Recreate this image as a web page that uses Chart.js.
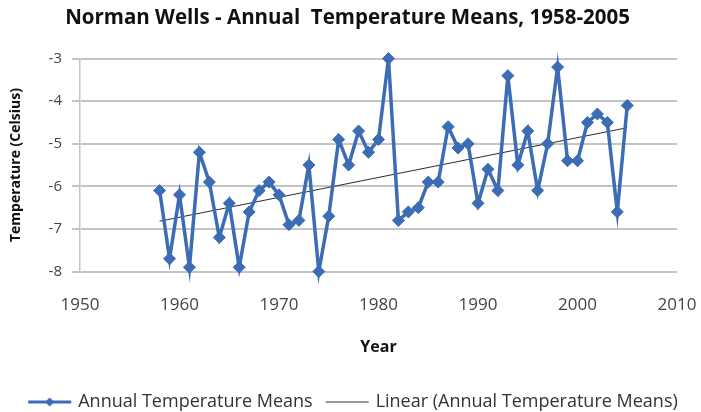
<!DOCTYPE html>
<html>
<head>
<meta charset="utf-8">
<title>Norman Wells - Annual Temperature Means</title>
<script src="https://cdn.jsdelivr.net/npm/chart.js@4.4.1/dist/chart.umd.min.js"></script>
<style>
  html, body { margin: 0; padding: 0; background: #fff; }
  #wrap { width: 701px; height: 412px; }
</style>
</head>
<body>
<div id="wrap"><canvas id="tempChart" width="701" height="412"></canvas></div>
<script>
const years = [
  1958, 1959, 1960, 1961, 1962, 1963, 1964, 1965, 1966, 1967,
  1968, 1969, 1970, 1971, 1972, 1973, 1974, 1975, 1976, 1977,
  1978, 1979, 1980, 1981, 1982, 1983, 1984, 1985, 1986, 1987,
  1988, 1989, 1990, 1991, 1992, 1993, 1994, 1995, 1996, 1997,
  1998, 1999, 2000, 2001, 2002, 2003, 2004, 2005
];
const tempMeans = [
  -6.1, -7.7, -6.2, -7.9, -5.2, -5.9, -7.2, -6.4, -7.9, -6.6,
  -6.1, -5.9, -6.2, -6.9, -6.8, -5.5, -8.0, -6.7, -4.9, -5.5,
  -4.7, -5.2, -4.9, -3.0, -6.8, -6.6, -6.5, -5.9, -5.9, -4.6,
  -5.1, -5.0, -6.4, -5.6, -6.1, -3.4, -5.5, -4.7, -6.1, -5.0,
  -3.2, -5.4, -5.4, -4.5, -4.3, -4.5, -6.6, -4.1
];
const xTicks = [1950, 1960, 1970, 1980, 1990, 2000, 2010];
const yTicks = [-3, -4, -5, -6, -7, -8];

const seriesLabel = "Annual Temperature Means";
const trendLabel = "Linear (Annual Temperature Means)";

const BLUE = "#3b6cb4";
const FONT = "'Open Sans', 'DejaVu Sans', sans-serif";
const PLOT_BOTTOM = 271.5; // where the -8 gridline sits
const PAD_BOTTOM = -9;     // pushes the legend down a little

// least squares line, same thing Excel's linear trendline does
function linearFit(xs, ys) {
  const n = xs.length;
  const mx = xs.reduce((a, b) => a + b, 0) / n;
  const my = ys.reduce((a, b) => a + b, 0) / n;
  let sxy = 0, sxx = 0;
  for (let i = 0; i < n; i++) {
    sxy += (xs[i] - mx) * (ys[i] - my);
    sxx += (xs[i] - mx) * (xs[i] - mx);
  }
  const slope = sxy / sxx;
  return x => my + slope * (x - mx);
}

const fit = linearFit(years, tempMeans);
const firstYear = years[0];
const lastYear = years[years.length - 1];

const seriesPoints = years.map((y, i) => ({ x: y, y: tempMeans[i] }));
const trendPoints = [
  { x: firstYear, y: fit(firstYear) },
  { x: lastYear, y: fit(lastYear) }
];

// legend icons: line with a small diamond, and a plain thin line.
// canvas is a bit wider than the legend box, so the line reaches close to the text
const ICON_BOX = 52;
function makeIcon(withMarker) {
  const c = document.createElement("canvas");
  c.width = ICON_BOX + 8;
  c.height = 14;
  const ctx = c.getContext("2d");
  ctx.beginPath();
  ctx.moveTo(15, 7);
  ctx.lineTo(58, 7);
  if (withMarker) {
    ctx.strokeStyle = BLUE;
    ctx.lineWidth = 3;
  } else {
    ctx.strokeStyle = "#333";
    ctx.lineWidth = 1;
  }
  ctx.stroke();
  if (withMarker) {
    ctx.fillStyle = BLUE;
    ctx.beginPath();
    ctx.moveTo(36.5, 2.5);
    ctx.lineTo(41, 7);
    ctx.lineTo(36.5, 11.5);
    ctx.lineTo(32, 7);
    ctx.closePath();
    ctx.fill();
  }
  return c;
}
const seriesIcon = makeIcon(true);
const trendIcon = makeIcon(false);

new Chart(document.getElementById("tempChart"), {
  type: "line",
  data: {
    datasets: [
      {
        label: seriesLabel,
        data: seriesPoints,
        borderColor: BLUE,
        backgroundColor: BLUE,
        borderWidth: 3.5,
        pointStyle: "rectRot",
        pointRadius: 6,
        pointBorderWidth: 1,
        tension: 0,
        clip: false
      },
      {
        label: trendLabel,
        data: trendPoints,
        borderColor: "#2b2b2b",
        borderWidth: 1,
        pointRadius: 0,
        clip: false
      }
    ]
  },
  options: {
    responsive: false,
    animation: false,
    layout: { padding: { left: 0, right: 6, top: 0, bottom: PAD_BOTTOM } },
    plugins: {
      title: {
        display: true,
        text: "Norman Wells - Annual  Temperature Means, 1958-2005",
        color: "#111",
        font: { family: FONT, size: 20.5, weight: "bold" },
        padding: { top: 6, bottom: 28 }
      },
      legend: {
        position: "bottom",
        labels: {
          usePointStyle: true,
          pointStyleWidth: ICON_BOX,
          color: "#333",
          padding: 2,
          font: { family: FONT, size: 18 },
          generateLabels(chart) {
            const items = Chart.defaults.plugins.legend.labels.generateLabels(chart);
            items.forEach(item => {
              item.pointStyle = item.datasetIndex === 0 ? seriesIcon : trendIcon;
            });
            return items;
          }
        }
      },
      tooltip: { enabled: false }
    },
    scales: {
      x: {
        type: "linear",
        min: 1950,
        max: 2010,
        afterBuildTicks(scale) {
          scale.ticks = xTicks.map(v => ({ value: v }));
        },
        afterFit(scale) {
          const chart = scale.chart;
          scale.height = chart.height - PAD_BOTTOM - chart.legend.height - PLOT_BOTTOM;
          // fixed side margins instead of the label based ones
          scale.paddingLeft = 0;
          scale.paddingRight = 24;
        },
        grid: { display: false, drawTicks: false },
        border: { display: false },
        ticks: {
          color: "#444",
          padding: 23,
          maxRotation: 0,
          callback: v => String(v),
          font: { family: FONT, size: 17 }
        },
        title: {
          display: true,
          text: "Year",
          color: "#111",
          font: { family: FONT, size: 16, weight: "bold" },
          padding: { top: 0, bottom: 34 }
        }
      },
      y: {
        min: -8,
        max: -3,
        afterBuildTicks(scale) {
          scale.ticks = yTicks.map(v => ({ value: v }));
        },
        afterFit(scale) {
          scale.width = 80;
        },
        grid: {
          color: "#c4c4c4",
          lineWidth: 2,
          tickLength: 8,
          drawTicks: true
        },
        border: { display: true, color: "#c4c4c4", width: 1.5 },
        ticks: {
          color: "#444",
          padding: 10,
          font: { family: FONT, size: 15 }
        },
        title: {
          display: true,
          text: "Temperature (Celsius)",
          color: "#111",
          font: { family: FONT, size: 14, weight: "bold" },
          padding: { top: 8, bottom: 0 }
        }
      }
    }
  }
});
</script>
</body>
</html>
